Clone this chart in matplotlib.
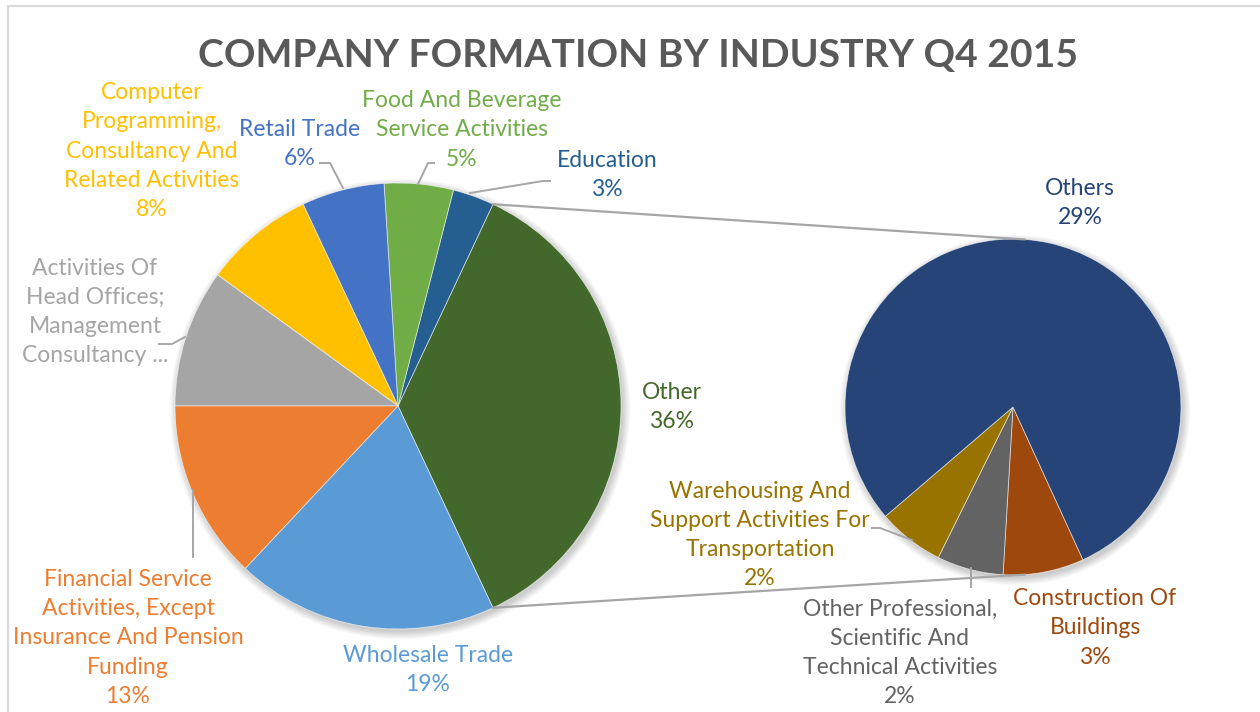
import matplotlib
matplotlib.use("Agg")
import matplotlib.pyplot as plt
from matplotlib.patches import Circle
import numpy as np

# ---------------- data ----------------
main_labels = ["Other", "Education", "Food And Beverage\nService Activities", "Retail Trade",
               "Computer\nProgramming,\nConsultancy And\nRelated Activities",
               "Activities Of\nHead Offices;\nManagement\nConsultancy ...",
               "Financial Service\nActivities, Except\nInsurance And Pension\nFunding",
               "Wholesale Trade"]
main_values = [36, 3, 5, 6, 8, 10, 13, 19]
main_show_pct = [True, True, True, True, True, False, True, True]

sub_labels = ["Construction Of\nBuildings",
              "Other Professional,\nScientific And\nTechnical Activities",
              "Warehousing And\nSupport Activities For\nTransportation",
              "Others"]
sub_values = [2.8, 2.3, 2.3, 28.6]

title = "COMPANY FORMATION BY INDUSTRY Q4 2015"

# ---------------- styles ----------------
main_colors = ["#43682B", "#255E91", "#70AD47", "#4472C4", "#FFC000", "#A5A5A5", "#ED7D31", "#5B9BD5"]
main_text_colors = ["#43682B", "#255E91", "#70AD47", "#4472C4", "#FFC000", "#A5A5A5", "#ED7D31", "#5B9BD5"]
sub_colors = ["#9E480E", "#636363", "#997300", "#264478"]
sub_text_colors = ["#9E480E", "#636363", "#997300", "#264478"]

W, H = 1260, 712
FONT = ["Lato", "DejaVu Sans"]

def Y(y):
    return H - y

fig = plt.figure(figsize=(W / 100, H / 100), dpi=100)
ax = fig.add_axes([0, 0, 1, 1])
ax.set_axis_off()

main_c = (398, Y(406)); main_r = 223
sub_c = (1013, Y(407)); sub_r = 168

# soft shadows
for c, r in [(main_c, main_r), (sub_c, sub_r)]:
    for i in range(10):
        ax.add_patch(Circle((c[0] + 2, c[1] - 3), r + 0.8 * i, color="black",
                            alpha=0.018, lw=0, zorder=0))

start_main = -main_values[0] / sum(main_values) * 360 / 2
ax.pie(main_values, colors=main_colors, center=main_c, radius=main_r,
       startangle=start_main, counterclock=True,
       wedgeprops=dict(linewidth=0.6, edgecolor=(1, 1, 1, 0.6)))

sub_angle0 = -65.4
ax.pie(sub_values, colors=sub_colors, center=sub_c, radius=sub_r,
       startangle=sub_angle0, counterclock=False,
       wedgeprops=dict(linewidth=0.6, edgecolor=(1, 1, 1, 0.6)))

ax.set_xlim(0, W)
ax.set_ylim(0, H)
ax.set_aspect("equal")

# connector lines between pies
a = np.deg2rad(-start_main)
p_top = (main_c[0] + main_r * np.cos(a), main_c[1] + main_r * np.sin(a))
p_bot = (main_c[0] + main_r * np.cos(-a), main_c[1] + main_r * np.sin(-a))
b = np.deg2rad(86)
q_top = (sub_c[0] + sub_r * np.cos(b), sub_c[1] + sub_r * np.sin(b))
q_bot = (sub_c[0] + sub_r * np.cos(-b), sub_c[1] + sub_r * np.sin(-b))
lc = "#A6A6A6"
ax.plot([p_top[0], q_top[0]], [p_top[1], q_top[1]], color=lc, lw=1.6, zorder=1)
ax.plot([p_bot[0], q_bot[0]], [p_bot[1], q_bot[1]], color=lc, lw=1.6, zorder=1)

# label layout (image pixel coords of text block centres)
main_pos = [(672, 407), (607, 175), (462, 130), (300, 144), (152, 151), (95, 312), (128, 638), (428, 670)]
sub_pos = [(1095, 628), (900, 653), (760, 535), (1080, 203)]
FS = 16.5
LS = 1.49

def label_text(lbl, v, show):
    return f"{lbl}\n{v:.0f}%" if show else lbl

for lbl, v, show, pos, col in zip(main_labels, main_values, main_show_pct, main_pos, main_text_colors):
    ax.text(pos[0], Y(pos[1]), label_text(lbl, v, show), ha="center", va="center",
            color=col, fontsize=FS, family=FONT, linespacing=LS, zorder=5)
for lbl, v, pos, col in zip(sub_labels, sub_values, sub_pos, sub_text_colors):
    ax.text(pos[0], Y(pos[1]), label_text(lbl, v, True), ha="center", va="center",
            color=col, fontsize=FS, family=FONT, linespacing=LS, zorder=5)

# leader lines
leaders = [
    [(320, 163), (330, 163), (343, 188)],
    [(434, 163), (428, 163), (418, 184)],
    [(550, 181), (543, 181), (470, 193)],
    [(159, 344), (172, 344), (185, 337)],
    [(193, 490), (193, 557)],
    [(872, 528), (880, 528), (912, 540)],
    [(971, 568), (971, 587)],
]
for pts in leaders:
    xs = [p[0] for p in pts]
    ys = [Y(p[1]) for p in pts]
    ax.plot(xs, ys, color=lc, lw=1.4, zorder=4)

# chart border
ax.plot([8, 8], [Y(6), 0], color="#D9D9D9", lw=1.5, zorder=6)
ax.plot([8, W], [Y(6), Y(6)], color="#D9D9D9", lw=1.5, zorder=6)

ax.text(638, Y(55), title, ha="center", va="center", color="#595959",
        fontsize=28.2, fontweight="bold", family=FONT, zorder=5)

fig.savefig("out.png", dpi=100)
